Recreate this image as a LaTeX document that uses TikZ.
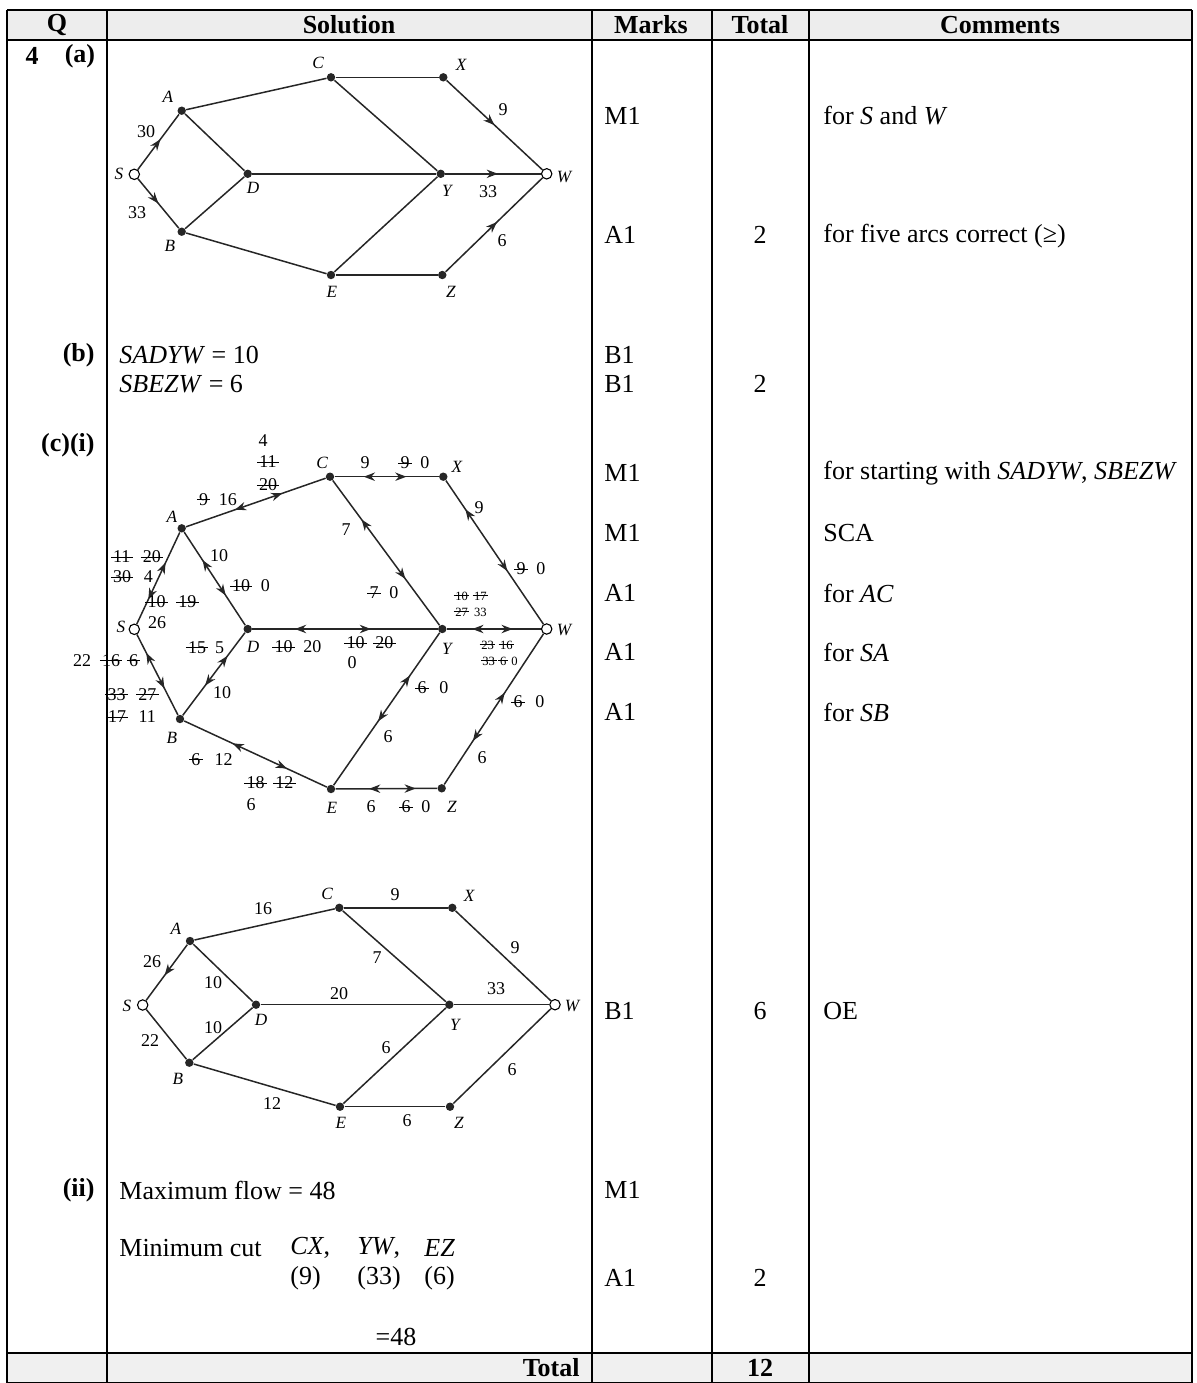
\documentclass[tikz,border=0pt]{standalone}
\usepackage{fontspec}
\setmainfont{Liberation Serif}
\usetikzlibrary{arrows.meta,decorations.markings}

\newsavebox\strkbox
\newcommand{\strk}[1]{\sbox\strkbox{#1}\makebox[\wd\strkbox]{\makebox[0pt]{\rule[0.3em]{\dimexpr\wd\strkbox+0.25em\relax}{0.5pt}}}\llap{\usebox\strkbox}}

\tikzset{
  vtx/.style={circle,fill=black!85,inner sep=0pt,minimum size=4.2pt},
  term/.style={circle,draw,fill=white,inner sep=0pt,minimum size=5.2pt,line width=0.55pt},
  arc/.style={line width=0.75pt,draw=black!85},
  fwd/.style={postaction={decorate,decoration={markings,
      mark=at position #1 with {\arrow{Stealth[length=5.6pt,width=4.2pt]}}}}},
  bwd/.style={postaction={decorate,decoration={markings,
      mark=at position #1 with {\arrowreversed{Stealth[length=5.6pt,width=4.2pt]}}}}},
  txt/.style={font=\fontsize{13}{15}\selectfont,inner sep=0pt},
  hd/.style={font=\fontsize{13}{15}\selectfont\bfseries,inner sep=0pt},
  lbl/.style={font=\fontsize{9}{10}\selectfont,inner sep=0pt},
  sml/.style={font=\fontsize{6.3}{7}\selectfont,inner sep=0pt},
  vname/.style={font=\fontsize{8.6}{9}\selectfont\itshape,inner sep=0pt},
  tline/.style={line width=0.9pt},
}

\begin{document}
\begin{tikzpicture}[x=0.5pt,y=-0.5pt]
\useasboundingbox (0,0) rectangle (1197,1383);

% table frame
\fill[gray!14] (7,10) rectangle (1192,40);
\fill[gray!12] (7,1353) rectangle (1192,1383);
\draw[tline] (7,10) -- (1192,10);
\draw[tline] (7,40) -- (1192,40);
\draw[line width=1.3pt] (7,1353) -- (1192,1353);
\draw[tline] (7,1383) -- (1192,1383);
\foreach \cx in {7,107,592,712,809,1192}
  \draw[tline] (\cx,10) -- (\cx,1383);

% header
\node[hd] (hq) at (57,25) {Q};
\node[hd] (hsol) at (349,25) {Solution};
\node[hd] (hmk) at (651,25) {Marks};
\node[hd] (htot) at (760,25) {Total};
\node[hd] (hcom) at (1000,25) {Comments};

% question column
\node[hd] (q4) at (32,56) {4};
\node[hd] (qa) at (80,56) {(a)};
\node[hd,anchor=east] (qb) at (95,355) {(b)};
\node[hd,anchor=east] (qc) at (95,445) {(c)(i)};
\node[hd,anchor=east] (qii) at (95,1190) {(ii)};

% solution text
\node[txt,anchor=west] (sb1) at (119,355) {\textit{SADYW} = 10};
\node[txt,anchor=west] (sb2) at (119,384) {\textit{SBEZW} = 6};
\node[txt,anchor=west] (smax) at (119,1190) {Maximum flow = 48};
\node[txt,anchor=west] (smin) at (119,1248) {Minimum cut};
\node[txt,anchor=west] (cx) at (290,1248) {\textit{CX},};
\node[txt,anchor=west] (yw) at (357,1248) {\textit{YW},};
\node[txt,anchor=west] (ez) at (424,1248) {\textit{EZ}};
\node[txt,anchor=west] (cxv) at (290,1278) {(9)};
\node[txt,anchor=west] (ywv) at (357,1278) {(33)};
\node[txt,anchor=west] (ezv) at (424,1278) {(6)};
\node[txt] (tot48) at (396,1337) {=48};
\node[hd,anchor=east] (totl) at (580,1368) {Total};

% marks
\foreach \nm/\yy/\mk in {m1/116/M1, m2/235/A1, m3/355/B1, m4/384/B1, m5/473/M1,
    m6/533/M1, m7/593/A1, m8/652/A1, m9/712/A1, m10/1011/B1, m11/1190/M1, m12/1278/A1}
  \node[txt,anchor=west] (\nm) at (604,\yy) {\mk};

% totals
\node[txt] (t1) at (760,235) {2};
\node[txt] (t2) at (760,384) {2};
\node[txt] (t3) at (760,1011) {6};
\node[txt] (t4) at (760,1278) {2};
\node[hd] (t5) at (760,1368) {12};

% comments
\node[txt,anchor=west] (c1) at (823,116) {for \textit{S} and \textit{W}};
\node[txt,anchor=west] (c2) at (823,236) {for five arcs correct (≥)};
\node[txt,anchor=west] (c3) at (823,473) {for starting with \textit{SADYW}, \textit{SBEZW}};
\node[txt,anchor=west] (c4) at (823,533) {SCA};
\node[txt,anchor=west] (c5) at (823,593) {for \textit{AC}};
\node[txt,anchor=west] (c6) at (823,652) {for \textit{SA}};
\node[txt,anchor=west] (c7) at (823,712) {for \textit{SB}};
\node[txt,anchor=west] (c8) at (823,1011) {OE};

%%% graph (a)
\node[term] (s1) at (134.3,174.3) {};
\node[vtx] (a1) at (181.7,110.7) {};
\node[vtx] (b1) at (181.7,231.7) {};
\node[vtx] (d1) at (247.7,173.8) {};
\node[vtx] (c1n) at (331,77.3) {};
\node[vtx] (x1) at (443.3,77.3) {};
\node[vtx] (y1) at (440.7,173.8) {};
\node[term] (w1) at (546.7,173.8) {};
\node[vtx] (e1) at (331,275) {};
\node[vtx] (z1) at (442.3,275) {};

\draw[arc,fwd=0.55] (s1) -- (a1);
\draw[arc,fwd=0.5] (s1) -- (b1);
\foreach \p/\q in {a1/c1n,a1/d1,b1/d1,b1/e1,d1/y1,c1n/x1,c1n/y1,e1/y1,e1/z1}
  \draw[arc] (\p) -- (\q);
\draw[arc,fwd=0.5] (x1) -- (w1);
\draw[arc,fwd=0.55] (y1) -- (w1);
\draw[arc,fwd=0.53] (z1) -- (w1);

\node[vname] (ls1) at (119,174) {S};
\node[vname] (la1) at (168,97) {A};
\node[vname] (lb1) at (170,246) {B};
\node[vname] (ld1) at (253,188) {D};
\node[vname] (lc1) at (318,63) {C};
\node[vname] (lx1) at (461,65) {X};
\node[vname] (ly1) at (447,191) {Y};
\node[vname] (lw1) at (564,177) {W};
\node[vname] (le1) at (332,292) {E};
\node[vname] (lz1) at (451,292) {Z};
\node[lbl] (f1) at (146,132) {30};
\node[lbl] (f2) at (137,213) {33};
\node[lbl] (f3) at (503,110) {9};
\node[lbl] (f4) at (488,192) {33};
\node[lbl] (f5) at (502,241) {6};

%%% graph (c)(i)
\node[term] (s2) at (134.3,629.3) {};
\node[vtx] (a2) at (181.7,528.3) {};
\node[vtx] (b2) at (180,719) {};
\node[vtx] (d2) at (247.7,629) {};
\node[vtx] (c2n) at (330,476.7) {};
\node[vtx] (x2) at (443.3,476.7) {};
\node[vtx] (y2) at (442.3,629) {};
\node[term] (w2) at (546.7,629) {};
\node[vtx] (e2) at (331,789) {};
\node[vtx] (z2) at (441.7,788.3) {};

\draw[arc,fwd=0.67,bwd=0.27] (s2) -- (a2);
\draw[arc,fwd=0.67,bwd=0.23] (s2) -- (b2);
\draw[arc,fwd=0.68,bwd=0.30] (a2) -- (d2);
\draw[arc,fwd=0.72,bwd=0.36] (b2) -- (d2);
\draw[arc,fwd=0.69,bwd=0.35] (a2) -- (c2n);
\draw[arc,fwd=0.64,bwd=0.23] (d2) -- (y2);
\draw[arc,fwd=0.69,bwd=0.28] (c2n) -- (x2);
\draw[arc,fwd=0.68,bwd=0.27] (c2n) -- (y2);
\draw[arc,fwd=0.63,bwd=0.20] (x2) -- (w2);
\draw[arc,fwd=0.70,bwd=0.27] (y2) -- (w2);
\draw[arc,fwd=0.72,bwd=0.42] (e2) -- (y2);
\draw[arc,fwd=0.61,bwd=0.29] (z2) -- (w2);
\draw[arc,fwd=0.79,bwd=0.33] (e2) -- (z2);
\draw[arc,fwd=0.72,bwd=0.34] (b2) -- (e2);

\node[vname] (ls2) at (121,627) {S};
\node[vname] (la2) at (172,517) {A};
\node[vname] (lb2) at (172,738) {B};
\node[vname] (ld2) at (253,647) {D};
\node[vname] (lc2) at (322,463) {C};
\node[vname] (lx2) at (457,467) {X};
\node[vname] (ly2) at (447,649) {Y};
\node[vname] (lw2) at (564,630) {W};
\node[vname] (le2) at (332,808) {E};
\node[vname] (lz2) at (452,807) {Z};

% flows on SA, SB
\node[lbl] (g1) at (137,557) {\strk{11}\hspace{.7em}\strk{20}};
\node[lbl] (g2) at (133,577) {\strk{30}\hspace{.7em}4};
\node[lbl] (g3) at (172,602) {\strk{10}\hspace{.7em}\strk{19}};
\node[lbl] (g4) at (157,623) {26};
\node[lbl] (g5) at (82,661) {22};
\node[lbl] (g6) at (120,661) {\strk{16}\hspace{.5em}\strk{6}};
\node[lbl] (g7) at (132,695) {\strk{33}\hspace{.7em}\strk{27}};
\node[lbl] (g8) at (132,717) {\strk{17}\hspace{.7em}11};
% AD, BD
\node[lbl] (g9) at (219,556) {10};
\node[lbl] (g10) at (251,586) {\strk{10}\hspace{.6em}0};
\node[lbl] (g11) at (206,648) {\strk{15}\hspace{.5em}5};
\node[lbl] (g12) at (222,693) {10};
% AC
\node[lbl] (g13) at (218,500) {\strk{9}\hspace{.6em}16};
\node[lbl] (g14) at (263,441) {4};
\node[lbl] (g15) at (268,462) {\strk{11}};
\node[lbl] (g16) at (268,485) {\strk{20}};
% DY
\node[lbl] (g17) at (298,647) {\strk{10}\hspace{.6em}20};
\node[lbl] (g18) at (370,643) {\strk{10}\hspace{.6em}\strk{20}};
\node[lbl] (g19) at (352,663) {0};
% CX, CY, XW
\node[lbl] (g20) at (365,463) {9};
\node[lbl] (g21) at (415,463) {\strk{9}\hspace{.6em}0};
\node[lbl] (g22) at (346,530) {7};
\node[lbl] (g23) at (384,593) {\strk{7}\hspace{.6em}0};
\node[lbl] (g24) at (479,508) {9};
\node[lbl] (g25) at (531,569) {\strk{9}\hspace{.6em}0};
% YW
\node[sml] (g26) at (471,596) {\strk{10}\hspace{.5em}\strk{17}};
\node[sml] (g27) at (471,612) {\strk{27}\hspace{.5em}33};
\node[sml] (g28) at (497,645) {\strk{23}\hspace{.5em}\strk{16}};
\node[sml] (g29) at (500,661) {\strk{33}\hspace{.4em}\strk{6}\hspace{.4em}0};
% EY, ZW, EZ, BE
\node[lbl] (g30) at (433,688) {\strk{6}\hspace{.7em}0};
\node[lbl] (g31) at (388,737) {6};
\node[lbl] (g32) at (529,702) {\strk{6}\hspace{.7em}0};
\node[lbl] (g33) at (482,758) {6};
\node[lbl] (g34) at (371,807) {6};
\node[lbl] (g35) at (416,807) {\strk{6}\hspace{.6em}0};
\node[lbl] (g36) at (212,760) {\strk{6}\hspace{.8em}12};
\node[lbl] (g37) at (270,783) {\strk{18}\hspace{.6em}\strk{12}};
\node[lbl] (g38) at (251,805) {6};

%%% final flow graph
\node[term] (s3) at (142.7,1005) {};
\node[vtx] (a3) at (190,941) {};
\node[vtx] (b3) at (189.3,1062.7) {};
\node[vtx] (d3) at (256,1004.7) {};
\node[vtx] (c3n) at (339.3,907.8) {};
\node[vtx] (x3) at (452.3,907.8) {};
\node[vtx] (y3) at (449.3,1004.7) {};
\node[term] (w3) at (555,1004.7) {};
\node[vtx] (e3) at (340,1106.7) {};
\node[vtx] (z3) at (450,1106.7) {};

\draw[arc,fwd=0.55] (a3) -- (s3);
\foreach \p/\q in {s3/b3,a3/c3n,a3/d3,b3/d3,b3/e3,d3/y3,c3n/x3,c3n/y3,x3/w3,y3/w3,e3/y3,e3/z3,z3/w3}
  \draw[arc] (\p) -- (\q);

\node[vname] (ls3) at (127,1006) {S};
\node[vname] (la3) at (176,929) {A};
\node[vname] (lb3) at (178,1079) {B};
\node[vname] (ld3) at (261,1020) {D};
\node[vname] (lc3) at (327,894) {C};
\node[vname] (lx3) at (469,896) {X};
\node[vname] (ly3) at (455,1025) {Y};
\node[vname] (lw3) at (572,1006) {W};
\node[vname] (le3) at (341,1123) {E};
\node[vname] (lz3) at (459,1123) {Z};
\node[lbl] (h1) at (263,909) {16};
\node[lbl] (h2) at (395,895) {9};
\node[lbl] (h3) at (152,962) {26};
\node[lbl] (h4) at (213,983) {10};
\node[lbl] (h5) at (213,1028) {10};
\node[lbl] (h6) at (150,1041) {22};
\node[lbl] (h7) at (377,958) {7};
\node[lbl] (h8) at (339,994) {20};
\node[lbl] (h9) at (496,989) {33};
\node[lbl] (h10) at (515,948) {9};
\node[lbl] (h11) at (386,1048) {6};
\node[lbl] (h12) at (512,1070) {6};
\node[lbl] (h13) at (272,1104) {12};
\node[lbl] (h14) at (407,1121) {6};
\end{tikzpicture}
\end{document}
